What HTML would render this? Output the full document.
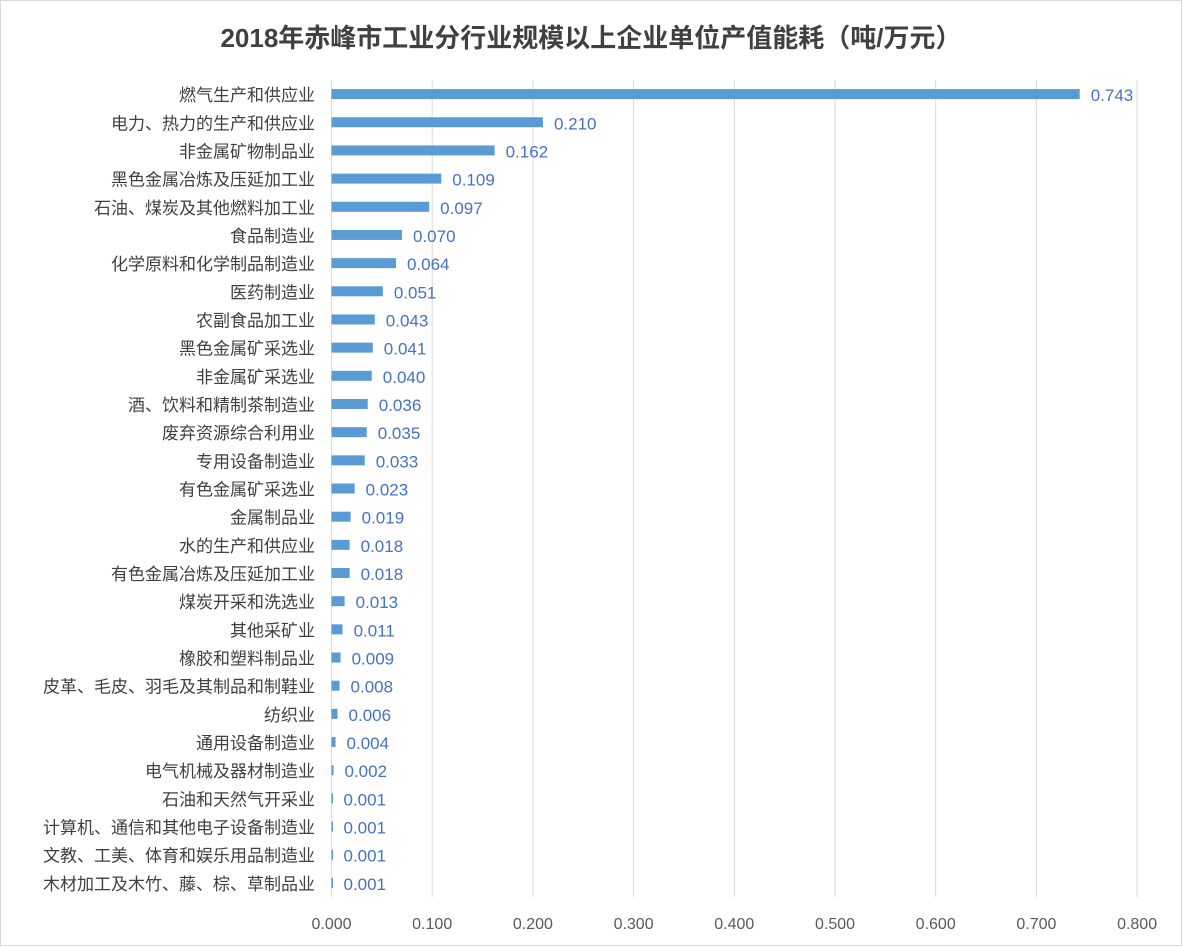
<!DOCTYPE html>
<html><head><meta charset="utf-8"><style>
body{margin:0;background:#fff;}
svg{display:block;font-family:"Liberation Sans","Noto Sans CJK SC",sans-serif;}
</style></head><body>
<svg id="chart" width="1183" height="947">
<rect x="0.5" y="0.5" width="1181" height="945" fill="#fff" stroke="#d9d9d9"/>
<text x="591" y="47" text-anchor="middle" font-size="26" font-weight="bold" fill="#404040" font-family="Liberation Sans,Noto Sans CJK SC,sans-serif">2018年赤峰市工业分行业规模以上企业单位产值能耗（吨/万元）</text>
<g id="grid"></g><g id="bars"></g><g id="labels"></g>
</svg>
<script>
const categories=["燃气生产和供应业","电力、热力的生产和供应业","非金属矿物制品业","黑色金属冶炼及压延加工业","石油、煤炭及其他燃料加工业","食品制造业","化学原料和化学制品制造业","医药制造业","农副食品加工业","黑色金属矿采选业","非金属矿采选业","酒、饮料和精制茶制造业","废弃资源综合利用业","专用设备制造业","有色金属矿采选业","金属制品业","水的生产和供应业","有色金属冶炼及压延加工业","煤炭开采和洗选业","其他采矿业","橡胶和塑料制品业","皮革、毛皮、羽毛及其制品和制鞋业","纺织业","通用设备制造业","电气机械及器材制造业","石油和天然气开采业","计算机、通信和其他电子设备制造业","文教、工美、体育和娱乐用品制造业","木材加工及木竹、藤、棕、草制品业"];
const values=[0.743,0.210,0.162,0.109,0.097,0.070,0.064,0.051,0.043,0.041,0.040,0.036,0.035,0.033,0.023,0.019,0.018,0.018,0.013,0.011,0.009,0.008,0.006,0.004,0.002,0.001,0.001,0.001,0.001];
const ticks=[0,0.1,0.2,0.3,0.4,0.5,0.6,0.7,0.8];
const NS="http://www.w3.org/2000/svg";
const x0=331.5,xScale=1007,yTop=80,yBot=897;
const x=v=>x0+v*xScale;
const step=(yBot-yTop)/categories.length;
const y=i=>yTop+step*(i+0.5);
function mk(t,a,p){const e=document.createElementNS(NS,t);for(const k in a)e.setAttribute(k,a[k]);p.appendChild(e);return e;}
const grid=document.getElementById('grid'),bars=document.getElementById('bars'),labels=document.getElementById('labels');
ticks.forEach(t=>{
 const l=mk('line',{x1:x(t),x2:x(t),y1:yTop,y2:yBot,stroke:'#d9d9d9','stroke-width':1},grid);
 
 
 const tx=mk('text',{x:x(t),y:929,'text-anchor':'middle','font-size':16,fill:'#595959'},grid);
 tx.textContent=t.toFixed(3);
 
 
});
categories.forEach((c,i)=>{
 const cy=y(i);
 const b=mk('rect',{x:x0,y:cy-5,width:Math.max(x(values[i])-x0,1.5),height:10,fill:'#5b9bd5'},bars);
 
 
 const v=mk('text',{x:x(values[i])+11,y:cy+7,'font-size':17,fill:'#4472c4'},labels);
 v.textContent=values[i].toFixed(3);
 
 
 const t=mk('text',{x:315,y:cy+7,'text-anchor':'end','font-size':17,fill:'#404040'},labels);
 t.textContent=c;
 
 
});
</script>
</body></html>
